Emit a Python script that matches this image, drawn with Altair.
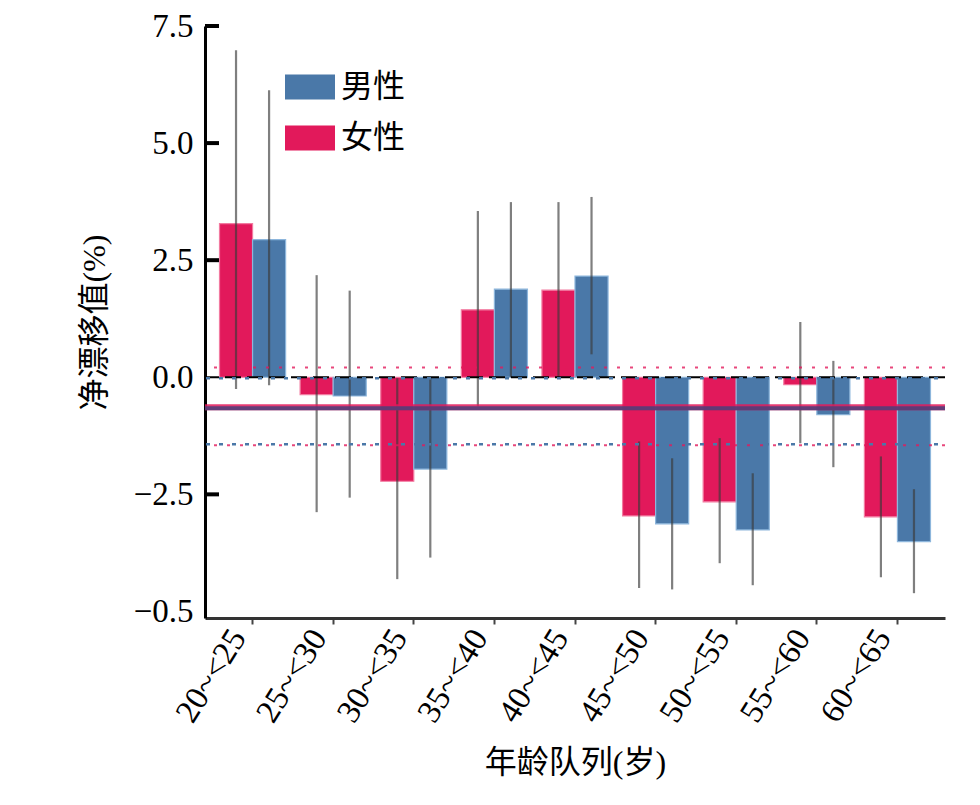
import altair as alt
import pandas as pd

ages = ["20~<25", "25~<30", "30~<35", "35~<40", "40~<45", "45~<50", "50~<55", "55~<60", "60~<65"]
female = [3.28, -0.37, -2.22, 1.44, 1.86, -2.96, -2.66, -0.16, -2.98]
male = [2.94, -0.40, -1.96, 1.88, 2.16, -3.13, -3.26, -0.80, -3.51]
female_lo = [-0.25, -2.88, -4.31, -0.62, -0.02, -4.50, -3.97, -1.41, -4.27]
female_hi = [6.98, 2.18, -0.02, 3.55, 3.74, -1.37, -1.30, 1.18, -1.69]
male_lo = [-0.17, -2.57, -3.85, 0.0, 0.49, -4.53, -4.44, -1.92, -4.61]
male_hi = [6.13, 1.85, 0.0, 3.74, 3.85, -1.73, -2.05, 0.35, -2.39]

# reference lines (mean and its interval per sex)
mean_f, mean_m = -0.64, -0.66
ci_f = [0.21, -1.45]
ci_m = [-0.02, -1.43]

y_ticks = [7.5, 5.0, 2.5, 0.0, -2.5, -5.0]
y_inner_ticks = [7.5, 5.0, 2.5, -2.5]

PINK = "#E2195B"
BLUE = "#4A78A8"
FONT = "Liberation Serif, Noto Sans CJK SC"

rows = []
for i, a in enumerate(ages):
    rows.append({"age": a, "sex": "女性", "v": female[i], "lo": female_lo[i], "hi": female_hi[i]})
    rows.append({"age": a, "sex": "男性", "v": male[i], "lo": male_lo[i], "hi": male_hi[i]})
df = pd.DataFrame(rows)

x_enc = alt.X("age:N", sort=ages,
              scale=alt.Scale(paddingInner=0.18, paddingOuter=0.18),
              axis=alt.Axis(title="年龄队列(岁)", labelAngle=302, labelAlign="right",
                            labelBaseline="middle", labelFontSize=33, labelPadding=8,
                            labelOffset=-14, tickSize=6, tickColor="#444", tickWidth=2,
                            domainColor="#333", domainWidth=3, titleFontSize=32,
                            titleFontWeight="normal", titlePadding=20, labelColor="black",
                            titleColor="black", grid=False))
xo_enc = alt.XOffset("sex:N", scale=alt.Scale(domain=["女性", "男性"]))
y_scale = alt.Scale(domain=[-5.14, 7.5], nice=False, zero=False)

bars = alt.Chart(df).mark_bar(strokeWidth=1.2).encode(
    x=x_enc,
    xOffset=xo_enc,
    y=alt.Y("v:Q", scale=y_scale,
            axis=alt.Axis(title="净漂移值(%)", values=y_ticks, ticks=False, grid=False,
                          labelExpr="datum.value == -5 ? '−0.5' : format(datum.value, '.1f')",
                          labelFontSize=33, labelPadding=12, domainColor="black",
                          domainWidth=3, titleFontSize=32, titleFontWeight="normal",
                          titlePadding=22, labelColor="black", titleColor="black")),
    y2=alt.datum(0),
    color=alt.Color("sex:N", scale=alt.Scale(domain=["男性", "女性"], range=[BLUE, PINK]),
                    legend=alt.Legend(title=None, orient="none", legendX=80, legendY=36,
                                      symbolType="M-1,-0.5H1V0.5H-1Z", symbolSize=2500,
                                      symbolStrokeWidth=0, symbolOpacity=1,
                                      labelFontSize=32, labelOffset=6, rowPadding=10,
                                      labelColor="black")),
    stroke=alt.Stroke("sex:N", scale=alt.Scale(domain=["男性", "女性"],
                                               range=["#8DB6DC", "#F27AA0"]), legend=None),
)

errs = alt.Chart(df).mark_rule(color="#3a3a3a", opacity=0.65, strokeWidth=2.2).encode(
    x=alt.X("age:N", sort=ages),
    xOffset=xo_enc,
    y=alt.Y("lo:Q", scale=y_scale),
    y2="hi:Q",
)

zero_df = pd.DataFrame({"y": [0.0]})
zero_line = alt.Chart(zero_df).mark_rule(color="black", strokeWidth=2.2, strokeDash=[16, 6]).encode(
    y=alt.Y("y:Q", scale=y_scale))

cif_df = pd.DataFrame({"y": ci_f})
cim_df = pd.DataFrame({"y": ci_m})
cif_line = alt.Chart(cif_df).mark_rule(color=PINK, strokeWidth=2, strokeDash=[3, 10], opacity=0.8).encode(
    y=alt.Y("y:Q", scale=y_scale))
cim_line = alt.Chart(cim_df).mark_rule(color=BLUE, strokeWidth=2.5, strokeDash=[4, 9], strokeDashOffset=6).encode(
    y=alt.Y("y:Q", scale=y_scale))

meanf_df = pd.DataFrame({"y": [mean_f]})
meanm_df = pd.DataFrame({"y": [mean_m]})
meanf_line = alt.Chart(meanf_df).mark_rule(color=PINK, strokeWidth=6, opacity=0.85).encode(
    y=alt.Y("y:Q", scale=y_scale))
meanm_line = alt.Chart(meanm_df).mark_rule(color="#4a3f7a", strokeWidth=4, opacity=0.85).encode(
    y=alt.Y("y:Q", scale=y_scale))

tick_df = pd.DataFrame({"y": y_inner_ticks})
inner_ticks = alt.Chart(tick_df).mark_rule(color="black", strokeWidth=4).encode(
    y=alt.Y("y:Q", scale=y_scale), x=alt.value(0), x2=alt.value(14))

chart = alt.layer(bars, errs, zero_line, cif_line, cim_line, meanf_line, meanm_line, inner_ticks).properties(
    width=740, height=592,
    autosize=alt.AutoSizeParams(type="none"),
    padding={"left": 197, "top": 18, "right": 20, "bottom": 180},
).configure(font=FONT).configure_view(stroke=None).configure_axis(grid=False)

chart.save("out.html", embed_options={"renderer": "svg", "actions": False})
